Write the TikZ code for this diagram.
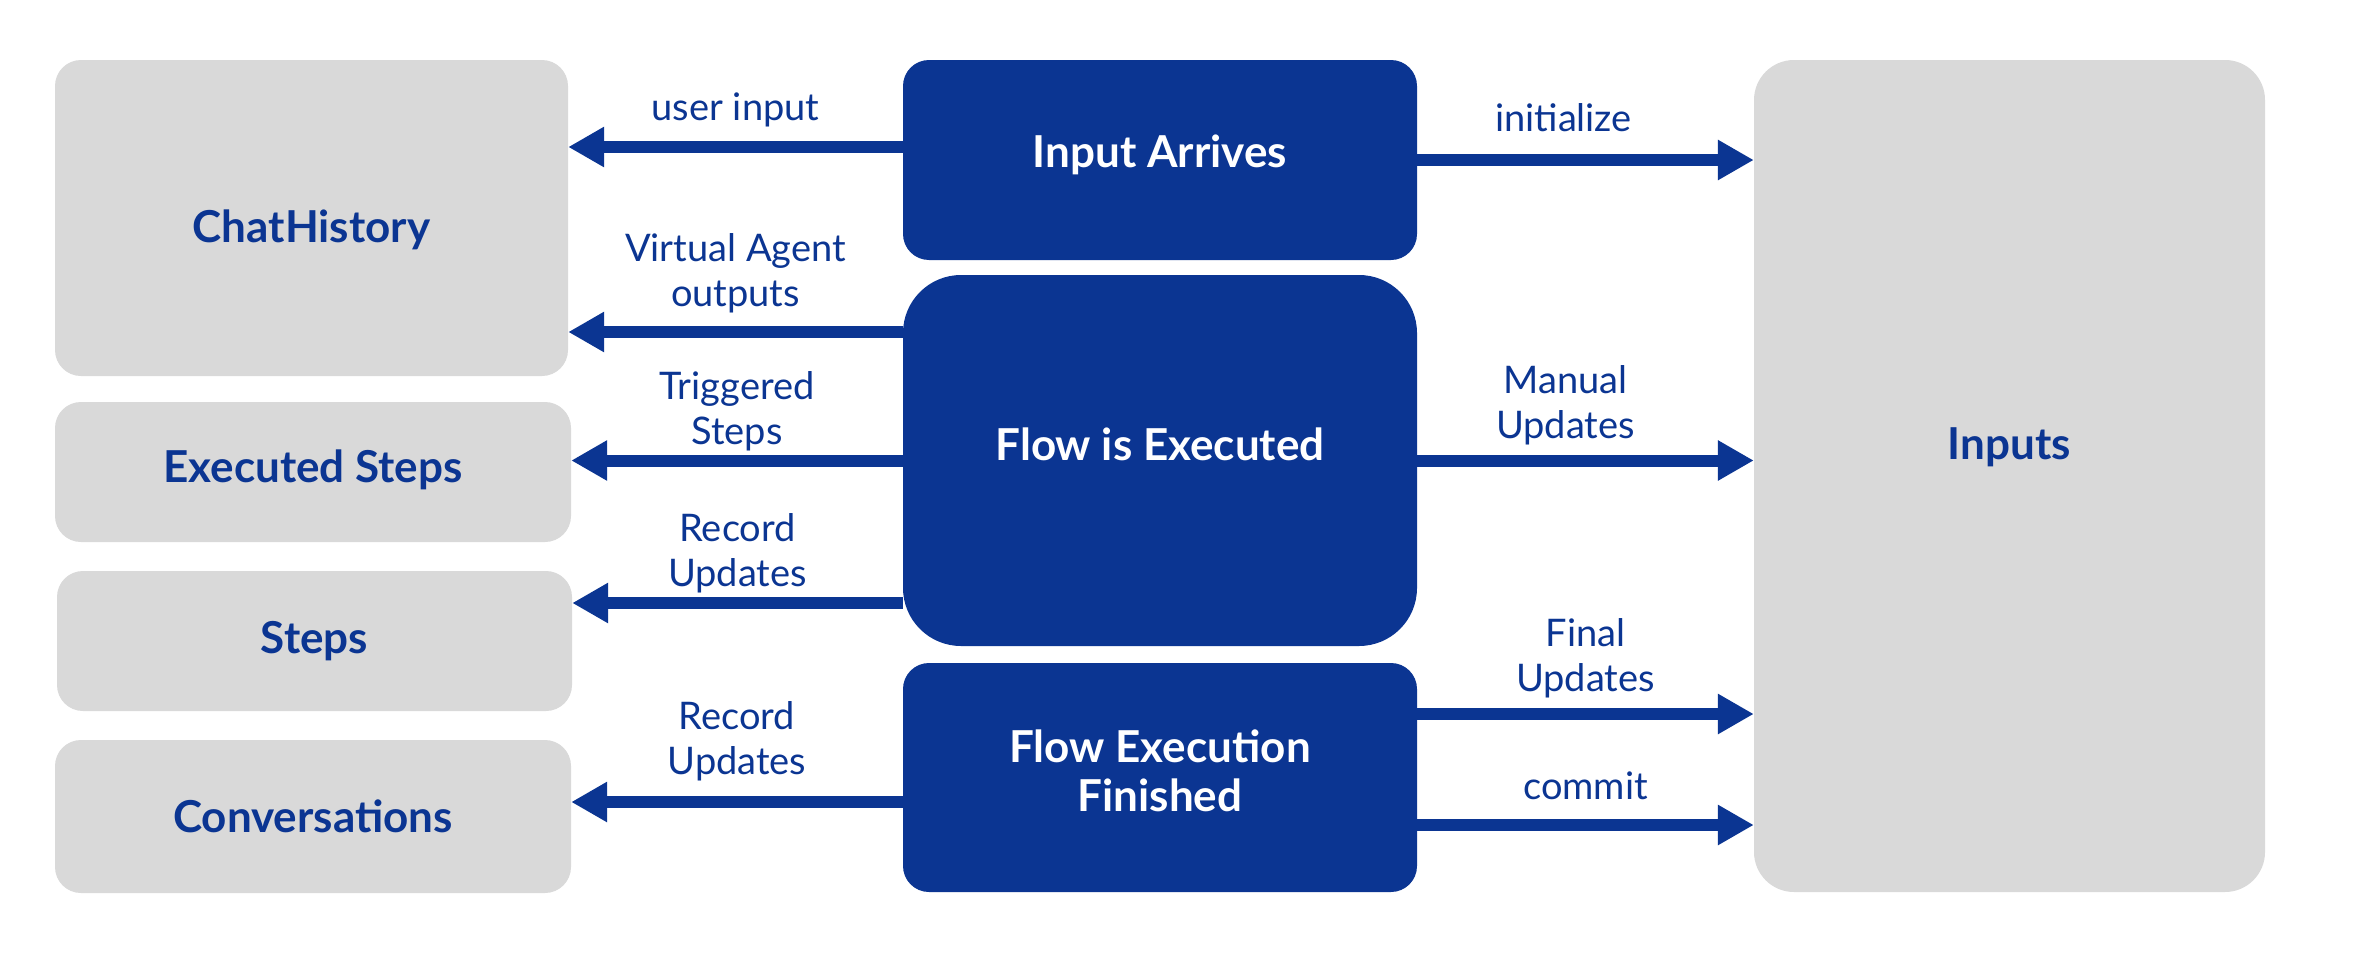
\documentclass[tikz,border=0pt]{standalone}
\usepackage{fontspec}
\setmainfont{Lato}
\usepackage{tikz}
\usetikzlibrary{arrows.meta}
\definecolor{flowblue}{RGB}{11,53,146}
\definecolor{boxgray}{RGB}{217,217,217}

\begin{document}
\begin{tikzpicture}[x=1pt,y=-1pt]
					\tikzstyle{store}=[rectangle,rounded corners=26pt,fill=boxgray]
					\tikzstyle{stage}=[rectangle,rounded corners=26pt,fill=flowblue]
					\tikzstyle{storetext}=[text=flowblue,font=\fontsize{44}{49}\selectfont\bfseries,align=center]
					\tikzstyle{stagetext}=[text=white,font=\fontsize{44}{49}\selectfont\bfseries,align=center]
					\tikzstyle{flowarrow}=[line width=12pt,draw=flowblue,-{Triangle[length=36pt,width=38pt]}]
					\tikzstyle{tag}=[text=flowblue,font=\fontsize{38}{45}\selectfont,align=center]
					\useasboundingbox[fill=white] (0,0) rectangle (2354,969);
					\node[store,minimum width=513pt,minimum height=316pt,label={[storetext,yshift=-12pt]center:ChatHistory}](chat) at (311.5,218) {};
					\node[store,minimum width=516pt,minimum height=140pt,label={[storetext,yshift=2pt]center:Executed Steps}](exec) at (313,472) {};
					\node[store,minimum width=515pt,minimum height=140pt,label={[storetext]center:Steps}](steps) at (314.5,641) {};
					\node[store,minimum width=516pt,minimum height=153pt,label={[storetext]center:Conversations}](conv) at (313,816.5) {};
					\node[stage,minimum width=514pt,minimum height=200pt,label={[stagetext,yshift=5pt]center:Input Arrives}](arrive) at (1160,160) {};
					\node[stage,rounded corners=58pt,minimum width=514pt,minimum height=371pt,label={[stagetext,yshift=16pt]center:Flow is Executed}](flow) at (1160,460.5) {};
					\node[stage,minimum width=514pt,minimum height=229pt,label={[stagetext,yshift=7pt]center:Flow Execution\\Finished}](finish) at (1160,777.5) {};
					\node[store,rounded corners=40pt,minimum width=511pt,minimum height=832pt,label={[storetext,yshift=29pt]center:Inputs}](inputs) at (2009.5,476) {};
					\coordinate (a1) at ([yshift=13pt]arrive.west);
					\coordinate (a2) at ([yshift=128.5pt]flow.west);
					\coordinate (a3) at ([yshift=-142.5pt]flow.west);
					\coordinate (a4) at ([yshift=-24.5pt]finish.west);
					\coordinate (b1) at ([yshift=63.5pt]finish.east);
					\coordinate (b2) at ([yshift=-47.5pt]finish.east);
   					\draw[flowarrow] (a1) to node[tag,above=11pt]{user input} (a1 -| chat.east);
   					\draw[flowarrow] (a2) to node[tag,above=10pt]{Virtual Agent\\outputs} (a2 -| chat.east);
   					\draw[flowarrow] (flow.west) to node[tag,above=0pt]{Triggered\\Steps} (flow.west -| exec.east);
   					\draw[flowarrow] (a3) to node[tag,above=1pt]{Record\\Updates} (a3 -| steps.east);
   					\draw[flowarrow] (a4) to node[tag,above=12pt]{Record\\Updates} (a4 -| conv.east);
   					\draw[flowarrow] (arrive.east) to node[tag,above=19pt,xshift=-22pt]{initialize} (arrive.east -| inputs.west);
   					\draw[flowarrow] (flow.east) to node[tag,above=6pt,xshift=-20pt]{Manual\\Updates} (flow.east -| inputs.west);
   					\draw[flowarrow] (b1) to node[tag,above=7pt]{Final\\Updates} (b1 -| inputs.west);
   					\draw[flowarrow] (b2) to node[tag,above=16pt]{commit} (b2 -| inputs.west);
				\end{tikzpicture}
\end{document}
